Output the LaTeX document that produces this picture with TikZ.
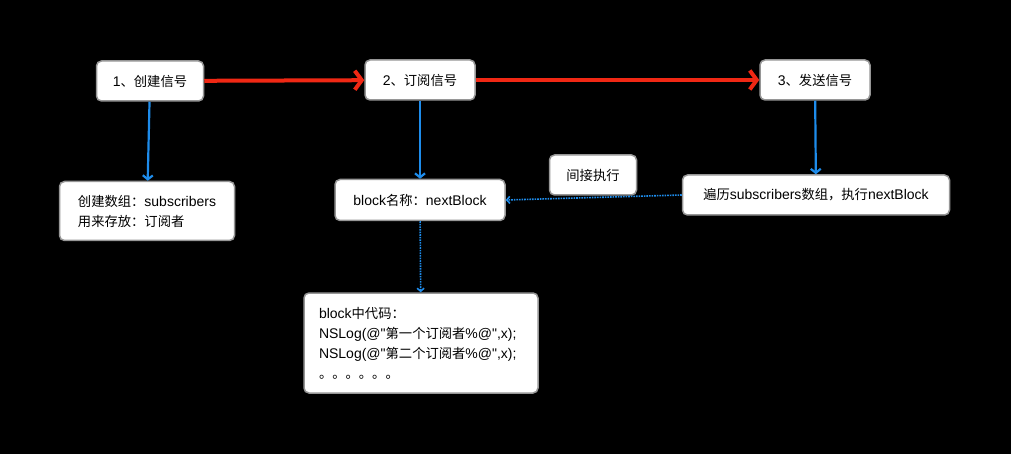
\documentclass[tikz,border=0pt]{standalone}
\usepackage{fontspec}
\setmainfont{Liberation Sans}[Ligatures=TeXOff]
\newfontfamily\cjk{Noto Sans CJK SC}[Scale=0.95]
\usetikzlibrary{arrows.meta}
\definecolor{redline}{RGB}{240,40,20}
\definecolor{blueline}{RGB}{30,140,235}
\definecolor{boxgray}{RGB}{150,150,150}
\begin{document}
\begin{tikzpicture}[x=1pt,y=-1pt]
    \tikzset{
        box/.style={draw=boxgray, line width=1.5pt, fill=white, rounded corners=5pt,
            font=\fontsize{14}{20}\selectfont, inner sep=0pt},
        redarrow/.style={redline, line width=4pt, -{Straight Barb[length=7pt,width=19pt]}},
        bluearrow/.style={blueline, line width=2.2pt, -{Straight Barb[length=4pt,width=10pt]}},
        dotarrow/.style={blueline, line width=1.6pt, densely dotted, -{Straight Barb[length=3pt,width=7pt]}}
    }
    \fill[black] (0,0) rectangle (1011,454);

    \node[box, minimum width=107pt, minimum height=40pt] (create) at (150,81) {1{\cjk 、创建信号}};
    \node[box, minimum width=110pt, minimum height=40pt] (subscribe) at (420,80) {2{\cjk 、订阅信号}};
    \node[box, minimum width=110pt, minimum height=40pt] (send) at (815,80) {3{\cjk 、发送信号}};

    \node[box, minimum width=175pt, minimum height=59pt, align=left] (array) at (147,211)
        {{\cjk 创建数组：}subscribers\\{\cjk 用来存放：订阅者}};
    \node[box, minimum width=170pt, minimum height=41pt] (block) at (420,200) {block{\cjk 名称：}nextBlock};
    \node[box, minimum width=267pt, minimum height=40pt] (loop) at (816,195)
        {{\cjk 遍历}subscribers{\cjk 数组，执行}nextBlock};
    \node[box, minimum width=87pt, minimum height=40pt] (indirect) at (593,175) {\cjk 间接执行};
    \node[box, minimum width=234pt, minimum height=100pt, align=left, text width=204pt] (code) at (421,343)
        {block{\cjk 中代码：}\\NSLog(@"{\cjk 第一个订阅者}\%@",x);\\NSLog(@"{\cjk 第二个订阅者}\%@",x);\\{\cjk 。。。。。。}};

    \draw[redarrow] (create) -- (subscribe);
    \draw[redarrow] (subscribe) -- (send);

    \draw[bluearrow] (create) -- (array);
    \draw[bluearrow] (subscribe) -- (block);
    \draw[bluearrow] (send) -- (loop);

    \draw[dotarrow] (loop.west) -- (block.east);
    \draw[dotarrow] (block) -- (code);
\end{tikzpicture}
\end{document}
